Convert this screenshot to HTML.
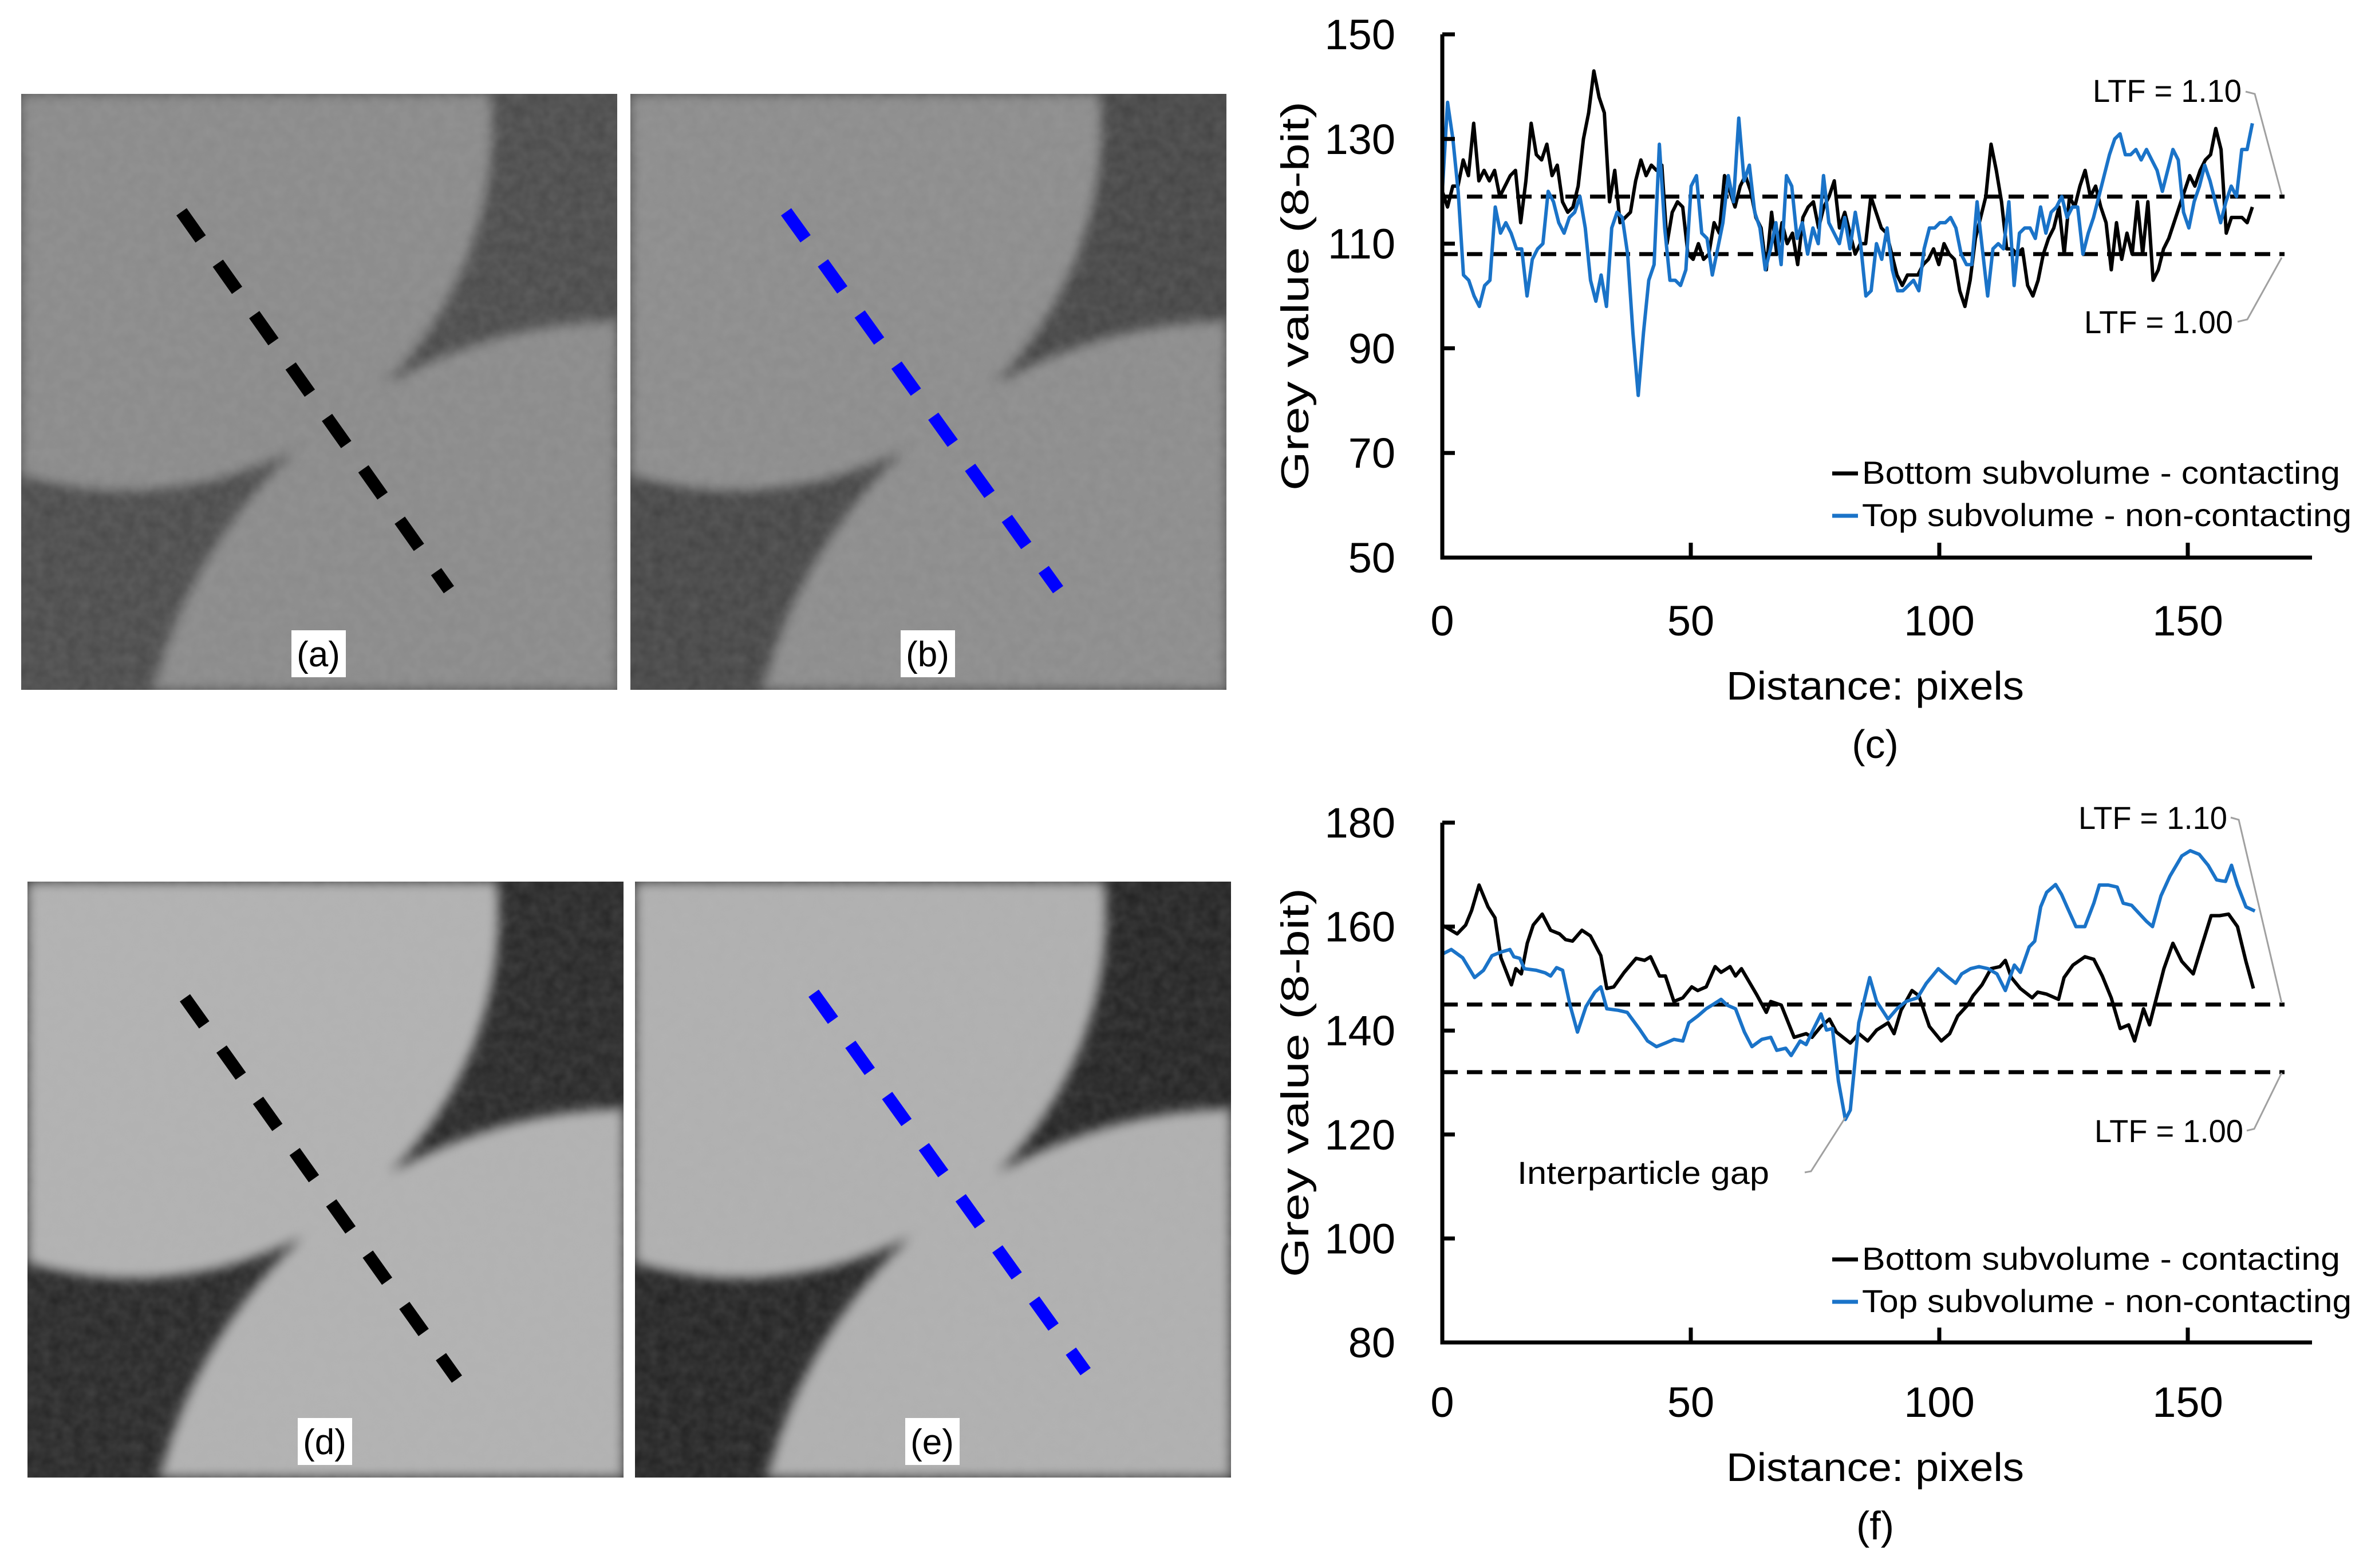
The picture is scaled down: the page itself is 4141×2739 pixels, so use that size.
<!DOCTYPE html>
<html><head><meta charset="utf-8"><style>
html,body{margin:0;padding:0;background:#fff;width:4141px;height:2739px;overflow:hidden;}
svg{display:block;font-family:"Liberation Sans",sans-serif;}
</style></head><body>
<svg id="fig" width="4141" height="2739" viewBox="0 0 4141 2739" xmlns="http://www.w3.org/2000/svg">
<rect width="4141" height="2739" fill="#fff"/>
<defs>
<filter id="noise" x="0" y="0" width="100%" height="100%"><feTurbulence type="fractalNoise" baseFrequency="0.05" numOctaves="2" seed="3"/><feColorMatrix type="matrix" values="0 0 0 0 0.5 0 0 0 0 0.5 0 0 0 0 0.5 0 0 0 0.35 0"/><feComposite in2="SourceGraphic" operator="in"/></filter>
<filter id="blur"><feGaussianBlur stdDeviation="10"/></filter>
</defs>
<g id="images"></g>
<g id="chart-c"></g>
<g id="chart-f"></g>
</svg>
<script>
// ---- chart data ----
const cBlack=[120,117,121,121,126,123,133,122,124,122,124,119,121,123,124,114,122,133,127,126,129,123,125,118,116,117,121,130,135,143,138,135,118,124,114,115,116,122,126,123,125,124,125,110,116,118,117,108,107,110,107,108,114,112,123,120,117,121,123,120,115,113,105,116,108,114,110,112,106,115,117,118,113,117,119,122,113,116,112,108,110,110,119,116,113,112,108,104,102,104,104,104,106,107,109,106,110,108,107,101,98,103,111,115,119,129,124,118,109,109,108,109,102,100,103,108,111,113,117,108,119,117,121,124,119,121,117,114,105,114,107,112,108,118,108,118,103,105,109,111,114,117,120,123,121,124,126,127,132,128,112,115,115,115,114,117];
const cBlue=[120,137,130,120,104,103,100,98,102,103,117,112,114,112,109,109,100,107,109,110,120,118,114,112,115,116,119,113,103,99,104,98,113,116,115,108,93,81,93,103,106,129,113,103,103,102,105,121,123,112,111,104,109,114,123,118,134,122,125,116,113,105,109,114,106,123,121,111,114,108,113,110,123,114,112,110,115,109,116,110,100,101,110,107,113,105,101,101,102,103,101,109,113,113,114,114,115,113,108,106,106,118,109,100,109,110,109,118,102,112,113,113,111,117,112,116,117,119,115,117,117,108,112,115,119,123,127,130,131,127,127,128,126,128,126,124,120,124,128,126,116,113,118,121,125,122,118,114,118,121,119,128,128,133];
const cMaxDist=163;
const cTicksY=[50,70,90,110,130,150];
const fBlackX=[0,3.0,4.7,5.9,7.4,9.2,10.6,11.8,13.9,14.8,15.9,17.1,18.3,20.1,21.8,23.6,24.8,26.2,28.1,29.8,31.9,33.1,34.5,36.6,39.0,40.7,41.9,43.7,44.9,46.6,48.4,50.2,51.4,53.1,54.9,56.1,57.9,59.0,60.2,63.2,65.2,66.1,68.2,70.8,73.2,74.4,76.2,77.9,79.3,82.1,83.8,85.6,87.4,89.7,90.9,92.3,94.5,95.9,98.0,100.4,102.1,103.7,105.7,106.8,108.6,110.4,112.2,113.3,114.5,116.3,118.7,119.8,121.6,124.0,125.1,126.9,129.3,131.1,132.8,134.6,136.4,138.1,139.3,141.1,142.3,145.2,147.0,148.8,151.1,152.3,154.7,156.4,158.2,160.0,161.7,163.2];
const fBlackY=[160.3,158.6,160.3,163.1,168.0,163.8,161.7,154.0,148.8,151.9,150.9,156.8,160.3,162.4,159.3,158.6,157.5,157.2,159.3,158.2,154.4,148.1,148.4,151.2,153.9,153.5,154.2,150.5,150.5,145.6,146.3,148.4,147.7,148.4,152.3,151.2,152.3,150.5,151.9,147.0,143.5,145.6,144.9,138.7,139.4,138.7,140.8,142.2,139.7,137.6,139.4,138.0,140.1,141.5,139.4,143.9,147.7,146.7,140.8,138.0,139.4,142.8,144.9,146.7,148.8,151.9,152.3,153.5,150.2,148.1,146.3,147.4,147.0,146.0,150.2,152.6,154.2,153.7,150.5,146.3,140.4,141.1,138.0,144.2,141.1,151.9,156.8,153.3,150.9,154.7,162.1,162.1,162.4,160.0,153.3,148.1];
const fBlueX=[0,1.8,4.1,6.5,8.3,10.0,11.8,13.6,14.4,15.6,16.5,18.9,20.7,21.8,23.0,24.2,25.7,27.2,28.9,30.7,31.9,33.1,35.4,37.2,39.6,41.3,43.1,44.9,46.6,48.4,49.6,51.4,53.1,54.3,56.1,57.3,59.0,60.8,62.3,64.3,66.1,67.3,69.1,70.2,72.0,73.2,74.6,76.2,77.3,78.5,79.7,81.1,82.1,83.8,86.0,87.4,89.7,91.5,93.3,95.6,97.4,99.8,101.5,103.3,104.5,106.3,108.0,109.8,111.6,113.3,115.1,116.3,118.1,119.2,120.4,121.6,123.4,124.6,125.7,127.5,129.3,131.1,132.2,134.0,135.8,137.0,138.7,141.7,142.9,144.6,146.4,148.8,150.5,152.3,154.1,155.8,156.8,157.6,158.8,160.0,161.7,163.5];
const fBlueY=[154.7,155.6,154.0,150.2,151.6,154.4,155.1,155.6,154.2,153.9,151.9,151.6,151.1,150.5,152.1,151.6,144.9,139.7,144.6,147.4,148.4,144.2,143.9,143.5,140.4,138.0,136.9,137.6,138.3,138.0,141.5,142.8,144.2,144.9,146.0,144.9,144.2,139.7,136.9,138.3,138.7,136.2,136.6,135.2,138.0,137.3,140.1,143.2,140.1,140.4,130.3,122.9,124.7,141.5,150.2,145.6,142.2,144.2,145.6,146.3,149.1,151.9,150.5,149.1,150.9,151.9,152.3,151.9,150.9,147.7,152.6,151.2,156.1,157.2,163.8,166.6,168.1,166.2,163.8,160.0,160.0,164.5,168.0,168.0,167.6,164.5,164.1,161.0,160.0,165.9,169.7,173.6,174.6,173.9,171.8,169.0,168.8,168.7,171.8,168.0,163.8,163.0];
const fTicksY=[80,100,120,140,160,180];
const xTicks=[0,50,100,150];
const cLTF=[108,119];
const fLTF=[132,145];

const NS="http://www.w3.org/2000/svg";
function mk(parent,tag,attrs,text){const e=document.createElementNS(NS,tag);for(const k in attrs)e.setAttribute(k,attrs[k]);if(text!==undefined)e.textContent=text;parent.appendChild(e);return e;}

// circle clamped to the 1041x1041 image square
function clampedCircle(cx,cy,r){
 let d='';
 for(let i=0;i<=180;i++){const a=i/180*2*Math.PI;
  const x=Math.max(0,Math.min(1041,cx+r*Math.cos(a)));
  const y=Math.max(0,Math.min(1041,cy+r*Math.sin(a)));
  d+=(i?'L':'M')+x.toFixed(1)+','+y.toFixed(1);}
 return d+'Z';
}

// ---- images ----
const imgs=document.getElementById('images');
const panels=[
 {x:37,y:164,lab:'(a)',dark:'#4a4a4a',light:'#8a8a8a',line:'#000',l:[280,206,747,866],nm:'image-a'},
 {x:1101,y:164,lab:'(b)',dark:'#444',light:'#8c8c8c',line:'#0000ff',l:[272,206,747,866],nm:'image-b'},
 {x:48,y:1540,lab:'(d)',dark:'#262626',light:'#b2b2b2',line:'#000',l:[275,203,750,869],nm:'image-d'},
 {x:1109,y:1540,lab:'(e)',dark:'#222',light:'#b0b0b0',line:'#0000ff',l:[312,195,787,856],nm:'image-e'}];
panels.forEach(p=>{
 const g=mk(imgs,'g',{transform:`translate(${p.x},${p.y})`});
 
 
 const cp='cp'+p.nm;
 const c=mk(g,'clipPath',{id:cp});mk(c,'rect',{x:0,y:0,width:1041,height:1041});
 const inner=mk(g,'g',{'clip-path':`url(#${cp})`});
 mk(inner,'rect',{x:0,y:0,width:1041,height:1041,fill:p.dark});
 const bl=mk(inner,'g',{filter:'url(#blur)'});
 mk(bl,'path',{d:clampedCircle(184,54,639),fill:p.light});
 mk(bl,'path',{d:clampedCircle(1057,1248,852),fill:p.light});
 mk(inner,'rect',{x:0,y:0,width:1041,height:1041,fill:'#808080',filter:'url(#noise)',opacity:0.5});
 const ln=mk(g,'line',{x1:p.l[0],y1:p.l[1],x2:p.l[2],y2:p.l[3],stroke:p.line,'stroke-width':22,'stroke-dasharray':'58 52'});
 
 
 const lb=mk(g,'rect',{x:472,y:937,width:95,height:82,fill:'#fff'});
 
 
 const t=mk(g,'text',{x:519,y:1000,'font-size':62,'text-anchor':'middle',fill:'#000'},p.lab);
 
 
});

// ---- charts ----
function chart(gid,cfg){
 const g=document.getElementById(gid);
 const X0=2519,XR=4038,PX=8.68;
 const sx=v=>X0+v*PX;
 const sy=v=>cfg.yB+(v-cfg.ymin)/(cfg.ymax-cfg.ymin)*(cfg.yT-cfg.yB);
 cfg.ltf.forEach(v=>{const l=mk(g,'line',{x1:X0,x2:3990,y1:sy(v),y2:sy(v),stroke:'#000','stroke-width':7,'stroke-dasharray':'27 16'});
  });
 cfg.series.forEach(s=>{
  let d='';s.y.forEach((v,i)=>{d+=(i?'L':'M')+sx(s.x[i]).toFixed(1)+','+sy(v).toFixed(1);});
  const p=mk(g,'path',{d:d,fill:'none',stroke:s.col,'stroke-width':6,'stroke-linejoin':'round'});
  
 });
 const ax=mk(g,'path',{d:`M${X0},${cfg.yT}L${X0},${cfg.yB}L${XR},${cfg.yB}`,fill:'none',stroke:'#000','stroke-width':7});
 
 cfg.ticksY.forEach(v=>{
  mk(g,'line',{x1:X0,x2:X0+22,y1:sy(v),y2:sy(v),stroke:'#000','stroke-width':7});
  const t=mk(g,'text',{x:2437,y:sy(v)+26,'font-size':74,'text-anchor':'end'},String(v));
  
 });
 xTicks.forEach(v=>{
  if(v>0)mk(g,'line',{x1:sx(v),x2:sx(v),y1:cfg.yB,y2:cfg.yB-26,stroke:'#000','stroke-width':7});
  const t=mk(g,'text',{x:sx(v),y:cfg.xtY,'font-size':74,'text-anchor':'middle'},String(v));
  
 });
 const xt=mk(g,'text',{x:3275,y:cfg.xtY+112,'font-size':70,'text-anchor':'middle',textLength:520,lengthAdjust:'spacingAndGlyphs'},'Distance: pixels');
 
 const pl=mk(g,'text',{x:3275,y:cfg.xtY+214,'font-size':70,'text-anchor':'middle'},cfg.lab);
 
 const cy=(cfg.yT+cfg.yB)/2;
 const yt=mk(g,'text',{x:0,y:0,'font-size':68,'text-anchor':'middle',textLength:680,lengthAdjust:'spacingAndGlyphs',transform:`translate(2285,${cy}) rotate(-90)`},'Grey value (8-bit)');
 
 [['#000','Bottom subvolume - contacting'],['#1a73c8','Top subvolume - non-contacting']].forEach((e,i)=>{
  const ly=cfg.legY+i*74;
  const lg=mk(g,'g',{});
  
  mk(lg,'line',{x1:3200,x2:3245,y1:ly-18,y2:ly-18,stroke:e[0],'stroke-width':7});
  mk(lg,'text',{x:3252,y:ly,'font-size':56,textLength:i?855:835,lengthAdjust:'spacingAndGlyphs'},e[1]);
 });
 cfg.ann.forEach(a=>{
  const t=mk(g,'text',{x:a.tx,y:a.ty,'font-size':56,'text-anchor':'end',textLength:a.tl,lengthAdjust:'spacingAndGlyphs'},a.txt);
  
  mk(g,'polyline',{points:a.pts,fill:'none',stroke:'#a0a0a0','stroke-width':3});
 });
}
const cIdx1=cBlack.map((_,i)=>i*cMaxDist/(cBlack.length-1));
const cIdx2=cBlue.map((_,i)=>i*cMaxDist/(cBlue.length-1));
chart('chart-c',{yT:60,yB:974,ymin:50,ymax:150,ticksY:cTicksY,ltf:cLTF,xtY:1110,lab:'(c)',legY:845,
 series:[{x:cIdx1,y:cBlack,col:'#000',name:'series-bottom-contacting'},{x:cIdx2,y:cBlue,col:'#1a73c8',name:'series-top-non-contacting'}],
 ann:[{txt:'LTF = 1.10',tx:3915,ty:178,tl:260,pts:'3922,160 3938,164 3985,340'},{txt:'LTF = 1.00',tx:3900,ty:582,tl:260,pts:'3908,562 3925,558 3985,450'}]});
chart('chart-f',{yT:1437,yB:2345,ymin:80,ymax:180,ticksY:fTicksY,ltf:fLTF,xtY:2475,lab:'(f)',legY:2218,
 series:[{x:fBlackX,y:fBlackY,col:'#000',name:'series-bottom-contacting'},{x:fBlueX,y:fBlueY,col:'#1a73c8',name:'series-top-non-contacting'}],
 ann:[{txt:'LTF = 1.10',tx:3890,ty:1448,tl:260,pts:'3896,1428 3910,1432 3985,1752'},{txt:'LTF = 1.00',tx:3918,ty:1995,tl:260,pts:'3924,1975 3937,1972 3985,1874'},
      {txt:'Interparticle gap',tx:3090,ty:2068,tl:440,pts:'3152,2048 3163,2046 3223,1952'}]});
</script>
</body></html>
